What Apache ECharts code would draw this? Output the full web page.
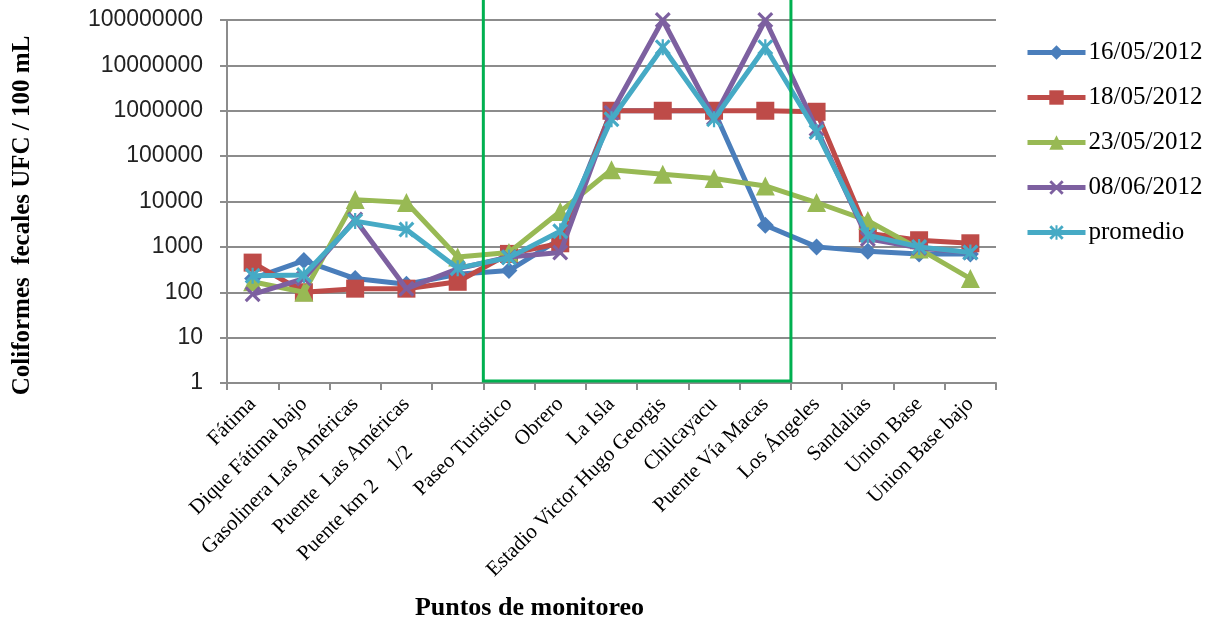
<!DOCTYPE html>
<html>
<head>
<meta charset="utf-8">
<script src="https://cdn.jsdelivr.net/npm/echarts@6/dist/echarts.min.js"></script>
<style>
html,body{margin:0;padding:0;background:#fff;}
#c{width:1211px;height:626px;}
</style>
</head>
<body>
<div id="c"></div>
<script>
const categories = ['Fátima', 'Dique Fátima bajo', 'Gasolinera Las Américas', 'Puente  Las Américas', 'Puente km 2    1/2             ', 'Paseo Turistico', 'Obrero', 'La Isla', 'Estadio Victor Hugo Georgis', 'Chilcayacu', 'Puente Vía Macas', 'Los Ángeles', 'Sandalias', 'Union Base', 'Union Base bajo'];
const seriesNames = ['16/05/2012', '18/05/2012', '23/05/2012', '08/06/2012', 'promedio'];
const s16_05 = [200, 500, 200, 150, 250, 300, 1500, 1000000, 1000000, 1000000, 3000, 1000, 800, 700, 700];
const s18_05 = [450, 100, 120, 120, 170, 700, 1200, 1000000, 1000000, 1000000, 1000000, 950000, 2000, 1400, 1200];
const s23_05 = [170, 100, 11000, 9500, 600, 750, 6000, 50000, 40000, 32000, 22000, 9500, 3800, 900, 200];
const s08_06 = [90, 200, 4000, 120, 330, 600, 750, 900000, 100000000, 700000, 100000000, 400000, 1500, 950, 750];
const promedio = [230, 240, 3700, 2400, 340, 580, 2200, 650000, 25000000, 650000, 25000000, 340000, 1800, 1000, 750];
const highlightFrom = 'Paseo Turistico';
const highlightTo = 'Puente Vía Macas';

const colors = ['#4A7EBB', '#BE4B48', '#98B954', '#7D60A0', '#46AAC5'];
const xPath = 'path://M0,1.4 L1.4,0 L5,3.6 L8.6,0 L10,1.4 L6.4,5 L10,8.6 L8.6,10 L5,6.4 L1.4,10 L0,8.6 L3.6,5 Z';
const starPath = 'path://M0,1.4 L1.4,0 L5,3.6 L8.6,0 L10,1.4 L6.4,5 L10,8.6 L8.6,10 L5,6.4 L1.4,10 L0,8.6 L3.6,5 Z M4.3,0 L5.7,0 L5.7,10 L4.3,10 Z';
const symbols = ['diamond', 'rect', 'triangle', xPath, starPath];
const symbolSizes = [17, 18, 19, 16, 16];
const dataList = [s16_05, s18_05, s23_05, s08_06, promedio];

const chart = echarts.init(document.getElementById('c'), null, {renderer: 'canvas'});
const option = {
  animation: false,
  backgroundColor: '#ffffff',
  color: colors,
  grid: {left: 227, right: 215, top: 20, bottom: 243, containLabel: false},
  legend: {
    orient: 'vertical',
    left: 1020,
    top: 35,
    itemWidth: 58,
    itemHeight: 18,
    itemGap: 20,
    lineStyle: {width: 5},
    textStyle: {fontFamily: 'Liberation Serif', fontSize: 25, color: '#000', padding: [0, 0, 0, -2]},
    data: seriesNames
  },
  xAxis: {
    type: 'category',
    data: categories,
    boundaryGap: true,
    name: 'Puntos de monitoreo',
    nameLocation: 'middle',
    nameGap: 212,
    nameTextStyle: {fontFamily: 'Liberation Serif', fontWeight: 'bold', fontSize: 26, color: '#000', padding: [0, 164, 0, 0]},
    axisLine: {lineStyle: {color: '#8C8C8C', width: 2}},
    axisTick: {show: true, alignWithLabel: false, length: 7, lineStyle: {color: '#8C8C8C', width: 2}},
    axisLabel: {rotate: 45, interval: 0, margin: 18, fontFamily: 'Liberation Serif', fontSize: 21, color: '#000'},
    splitLine: {show: false}
  },
  yAxis: {
    type: 'log',
    logBase: 10,
    min: 1,
    max: 100000000,
    interval: 1,
    name: 'Coliformes  fecales UFC / 100 mL',
    nameLocation: 'middle',
    nameGap: 192,
    nameTextStyle: {fontFamily: 'Liberation Serif', fontWeight: 'bold', fontSize: 25, color: '#000', padding: [0, 0, 0, -28]},
    axisLine: {show: true, lineStyle: {color: '#8C8C8C', width: 2}},
    axisTick: {show: true, length: 7, lineStyle: {color: '#8C8C8C', width: 2}},
    axisLabel: {margin: 24, fontFamily: 'Liberation Sans', fontSize: 23, color: '#222',
      formatter: function (v) { return String(Math.round(v)); }},
    splitLine: {show: true, lineStyle: {color: '#8C8C8C', width: 2}}
  },
  series: seriesNames.map(function (name, i) {
    return {
      name: name,
      type: 'line',
      data: dataList[i],
      symbol: symbols[i],
      symbolSize: symbolSizes[i],
      showAllSymbol: true,
      lineStyle: {width: 5, color: colors[i]},
      itemStyle: {color: colors[i], borderWidth: 0},
      emphasis: {disabled: true},
      z: 2 + i
    };
  })
};
chart.setOption(option);

function drawBox() {
  const c0 = chart.convertToPixel({xAxisIndex: 0}, categories[0]);
  const c1 = chart.convertToPixel({xAxisIndex: 0}, categories[1]);
  const band = c1 - c0;
  const xa = chart.convertToPixel({xAxisIndex: 0}, highlightFrom) - band / 2;
  const xb = chart.convertToPixel({xAxisIndex: 0}, highlightTo) + band / 2;
  const yBottom = chart.convertToPixel({yAxisIndex: 0}, 1) - 2;
  chart.setOption({
    graphic: [{
      type: 'rect',
      z: 100,
      silent: true,
      shape: {x: xa, y: -10, width: xb - xa, height: yBottom + 10},
      style: {fill: 'none', stroke: '#00B050', lineWidth: 3}
    }]
  });
}
drawBox();
</script>
</body>
</html>
